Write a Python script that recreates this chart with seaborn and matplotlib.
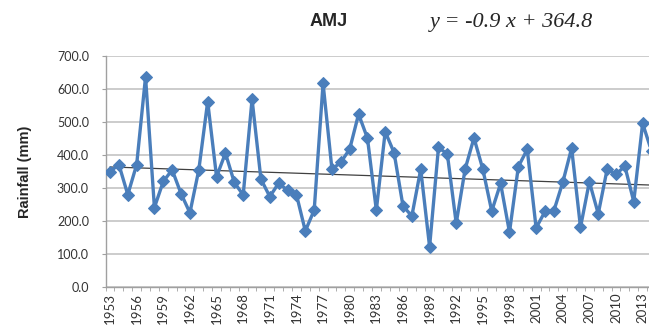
import numpy as np
import pandas as pd
import matplotlib.pyplot as plt
import seaborn as sns

# AMJ rainfall, 1953-2014
years = list(range(1953, 2015))
rainfall = [350, 371, 280, 371, 637, 241, 320, 355, 283, 225,
            355, 562, 334, 406, 317, 279, 569, 327, 274, 315,
            293, 280, 170, 233, 617, 357, 378, 418, 524, 451,
            233, 471, 407, 246, 215, 357, 122, 423, 403, 193,
            357, 452, 357, 230, 314, 166, 365, 417, 179, 229,
            231, 317, 421, 181, 319, 222, 357, 342, 366, 259,
            496, 412]
tick_years = list(range(1953, 2014, 3))
y_ticks = [0, 100, 200, 300, 400, 500, 600, 700]

# linear trend shown on the chart: y = slope * x + intercept, x = 1, 2, ...
slope = -0.9
intercept = 364.8

df = pd.DataFrame({'year': years, 'rainfall': rainfall})
df['trend'] = slope * (df['year'] - years[0] + 1) + intercept

sns.set_style('white')
plt.rcParams['font.family'] = ['Lato', 'DejaVu Sans']

fig = plt.figure(figsize=(6.49, 3.33), dpi=100)
ax = fig.add_axes([0.1627, 0.138, 0.848, 0.6937])

for v in y_ticks:
    ax.axhline(v, color='#c4c4c4', lw=1.2, zorder=0)

sns.lineplot(data=df, x='year', y='trend', color='#404040', lw=0.9, ax=ax, zorder=2)
sns.lineplot(data=df, x='year', y='rainfall', color='#4a7ebb', lw=2.4,
             marker='D', markersize=6, markeredgecolor='#4a7ebb', ax=ax, zorder=3)

ax.set_xlim(years[0] - 0.5, years[-1] + 0.5)
ax.set_ylim(0, 700)
ax.set_yticks(y_ticks)
ax.set_yticklabels([f'{v:.1f}' for v in y_ticks], fontsize=9, color='#333333')
ax.set_xticks(tick_years)
ax.set_xticklabels([str(y) for y in tick_years], rotation=90, fontsize=9.5, color='#333333')
ax.set_xticks(np.arange(years[0] - 0.5, years[-1] + 1), minor=True)
ax.tick_params(axis='x', which='major', length=0, pad=4)
ax.tick_params(axis='x', which='minor', length=3, color='#a0a0a0', bottom=True)
ax.tick_params(axis='y', length=3, color='#a0a0a0', left=True, pad=9)

for side in ['top', 'right']:
    ax.spines[side].set_visible(False)
for side in ['left', 'bottom']:
    ax.spines[side].set_color('#a0a0a0')
    ax.spines[side].set_linewidth(1.0)

ax.set_xlabel('')
ax.set_ylabel('Rainfall (mm)', fontsize=10.5, fontweight='bold', family='Liberation Sans', labelpad=18)

fig.text(329 / 649, 1 - 22 / 333, 'AMJ', ha='center', va='center', fontsize=13,
         fontweight='bold', family='Liberation Sans')
fig.text(511 / 649, 1 - 22 / 333, 'y = -0.9 x + 364.8', ha='center', va='center',
         fontsize=16, style='italic', family='Liberation Serif')

fig.savefig('out.png', dpi=100)
